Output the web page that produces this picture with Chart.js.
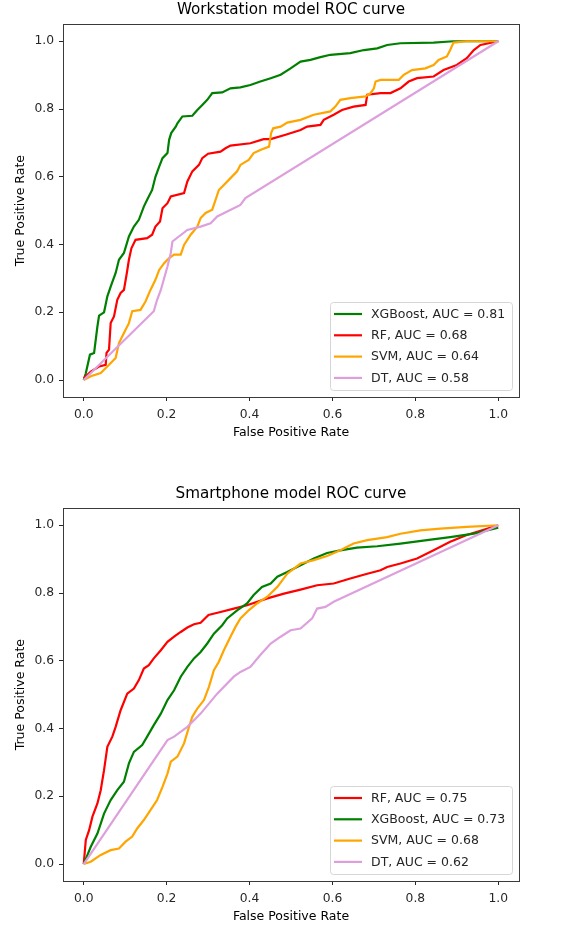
<!DOCTYPE html>
<html>
<head>
<meta charset="utf-8">
<script src="https://cdn.jsdelivr.net/npm/chart.js@4.4.1/dist/chart.umd.min.js"></script>
<style>
body { margin: 0; background: #fff; }
#wrap { position: relative; width: 573px; height: 931px; }
canvas { position: absolute; left: 0; }
</style>
</head>
<body>
<div id="wrap">
<canvas id="wsChart" width="573" height="447" style="top:0"></canvas>
<canvas id="spChart" width="573" height="447" style="top:484px"></canvas>
</div>
<script>
// tick marks on both axes
var tickValues = [0, 0.2, 0.4, 0.6, 0.8, 1.0];
var tickLabels = ['0.0', '0.2', '0.4', '0.6', '0.8', '1.0'];

// workstation model curves (fpr / tpr)
var wsLabels = ['XGBoost, AUC = 0.81', 'RF, AUC = 0.68', 'SVM, AUC = 0.64', 'DT, AUC = 0.58'];
var wsXgbFpr = [0,0.005,0.015,0.025,0.033,0.037,0.049,0.057,0.065,0.077,0.085,0.097,0.109,0.121,0.133,0.145,0.153,0.165,0.173,0.182,0.190,0.202,0.206,0.211,0.222,0.226,0.238,0.262,0.274,0.286,0.298,0.310,0.334,0.354,0.378,0.402,0.426,0.451,0.475,0.499,0.523,0.547,0.571,0.595,0.643,0.676,0.708,0.732,0.764,0.844,0.892,1];
var wsXgbTpr = [0,0.02,0.075,0.08,0.158,0.19,0.20,0.247,0.276,0.316,0.355,0.375,0.424,0.453,0.473,0.512,0.532,0.561,0.60,0.63,0.655,0.67,0.709,0.729,0.748,0.758,0.778,0.78,0.797,0.812,0.827,0.847,0.849,0.861,0.864,0.871,0.881,0.891,0.901,0.92,0.94,0.945,0.953,0.96,0.965,0.974,0.979,0.989,0.994,0.996,1,1];
var wsRfFpr = [0,0.017,0.037,0.053,0.055,0.061,0.065,0.073,0.081,0.089,0.097,0.104,0.109,0.115,0.125,0.153,0.165,0.173,0.184,0.190,0.202,0.210,0.242,0.250,0.262,0.278,0.286,0.300,0.330,0.342,0.354,0.402,0.434,0.451,0.487,0.523,0.539,0.571,0.579,0.603,0.623,0.651,0.680,0.684,0.716,0.740,0.764,0.784,0.804,0.844,0.868,0.900,0.924,0.941,0.957,1];
var wsRfTpr = [0.005,0.025,0.04,0.045,0.08,0.09,0.168,0.188,0.237,0.257,0.266,0.316,0.355,0.389,0.414,0.419,0.429,0.453,0.468,0.507,0.522,0.542,0.552,0.586,0.616,0.635,0.655,0.668,0.674,0.684,0.692,0.699,0.711,0.711,0.724,0.738,0.748,0.753,0.768,0.783,0.797,0.807,0.812,0.842,0.847,0.847,0.861,0.881,0.891,0.896,0.915,0.930,0.950,0.974,0.989,1];
var wsSvmFpr = [0,0.017,0.041,0.057,0.077,0.085,0.097,0.109,0.117,0.137,0.149,0.161,0.173,0.182,0.194,0.206,0.218,0.234,0.242,0.258,0.274,0.282,0.294,0.310,0.318,0.326,0.338,0.354,0.370,0.378,0.398,0.410,0.426,0.447,0.452,0.457,0.475,0.491,0.523,0.555,0.595,0.607,0.619,0.643,0.680,0.692,0.700,0.704,0.716,0.760,0.772,0.792,0.824,0.844,0.856,0.876,0.884,0.892,0.924,1];
var wsSvmTpr = [0,0.011,0.021,0.04,0.065,0.109,0.139,0.168,0.203,0.207,0.232,0.266,0.296,0.325,0.345,0.36,0.37,0.37,0.399,0.429,0.453,0.478,0.493,0.503,0.532,0.561,0.576,0.596,0.616,0.635,0.650,0.670,0.679,0.689,0.729,0.743,0.748,0.760,0.768,0.783,0.793,0.807,0.827,0.832,0.837,0.847,0.861,0.881,0.886,0.886,0.901,0.915,0.920,0.930,0.945,0.955,0.974,0.996,1,1];
var wsDtFpr = [0,0.169,0.177,0.186,0.202,0.210,0.214,0.250,0.282,0.306,0.322,0.378,0.390,1];
var wsDtTpr = [0,0.203,0.237,0.266,0.335,0.375,0.409,0.443,0.453,0.463,0.483,0.517,0.537,1];

// smartphone model curves
var spLabels = ['RF, AUC = 0.75', 'XGBoost, AUC = 0.73', 'SVM, AUC = 0.68', 'DT, AUC = 0.62'];
var spRfFpr = [0,0.005,0.013,0.021,0.033,0.041,0.049,0.057,0.069,0.077,0.089,0.105,0.121,0.133,0.145,0.157,0.169,0.186,0.202,0.218,0.234,0.250,0.266,0.282,0.301,0.330,0.362,0.394,0.443,0.483,0.523,0.563,0.603,0.643,0.684,0.716,0.732,0.764,0.804,0.844,0.884,0.924,1];
var spRfTpr = [0,0.071,0.10,0.14,0.179,0.218,0.277,0.346,0.376,0.405,0.454,0.503,0.518,0.543,0.577,0.587,0.607,0.631,0.656,0.671,0.685,0.698,0.708,0.712,0.735,0.744,0.754,0.764,0.784,0.798,0.810,0.823,0.828,0.843,0.857,0.867,0.877,0.887,0.902,0.926,0.951,0.971,1];
var spXgbFpr = [0,0.017,0.033,0.049,0.065,0.081,0.097,0.109,0.121,0.141,0.153,0.169,0.186,0.202,0.218,0.234,0.250,0.266,0.282,0.298,0.314,0.334,0.346,0.370,0.394,0.410,0.430,0.451,0.467,0.491,0.523,0.555,0.587,0.619,0.659,0.708,0.764,0.828,0.884,0.941,1];
var spXgbTpr = [0,0.051,0.09,0.149,0.189,0.218,0.243,0.297,0.331,0.351,0.376,0.41,0.444,0.484,0.513,0.553,0.582,0.607,0.626,0.651,0.680,0.705,0.725,0.749,0.769,0.794,0.818,0.828,0.848,0.862,0.882,0.902,0.918,0.926,0.934,0.938,0.946,0.956,0.965,0.975,0.993];
var spSvmFpr = [0,0.017,0.041,0.065,0.085,0.101,0.117,0.129,0.145,0.161,0.177,0.190,0.202,0.210,0.226,0.242,0.254,0.262,0.274,0.290,0.302,0.314,0.326,0.338,0.354,0.366,0.378,0.398,0.418,0.443,0.467,0.491,0.523,0.555,0.587,0.619,0.651,0.684,0.732,0.764,0.812,0.860,0.924,1];
var spSvmTpr = [0,0.007,0.027,0.041,0.046,0.066,0.081,0.105,0.13,0.159,0.189,0.228,0.267,0.302,0.317,0.356,0.405,0.435,0.459,0.484,0.523,0.572,0.597,0.631,0.671,0.700,0.725,0.749,0.769,0.789,0.818,0.857,0.887,0.897,0.909,0.926,0.946,0.956,0.965,0.975,0.985,0.990,0.995,1];
var spDtFpr = [0,0.202,0.218,0.250,0.282,0.322,0.362,0.378,0.402,0.426,0.451,0.475,0.499,0.523,0.551,0.563,0.583,0.603,1];
var spDtTpr = [0,0.366,0.376,0.405,0.444,0.503,0.553,0.567,0.582,0.617,0.651,0.671,0.690,0.695,0.725,0.754,0.759,0.774,1];

var green = '#008000', red = '#ff0000', orange = '#ffa500', plum = '#dda0dd';

Chart.defaults.font.family = "'DejaVu Sans', sans-serif";
Chart.defaults.color = '#262626';

// axes box on all four sides, title over the axes, matplotlib style legend in lower right
var rocFrame = {
  id: 'rocFrame',
  afterDraw: function (chart) {
    var ctx = chart.ctx, a = chart.chartArea;
    ctx.save();
    ctx.strokeStyle = '#3a3a3a';
    ctx.lineWidth = 1;
    ctx.strokeRect(Math.round(a.left) + 0.5, Math.round(a.top) + 0.5,
      Math.round(a.right - a.left), Math.round(a.bottom - a.top));

    ctx.font = "15.2px 'DejaVu Sans', sans-serif";
    ctx.fillStyle = '#000';
    ctx.textAlign = 'center';
    ctx.textBaseline = 'middle';
    ctx.fillText(chart.options.rocTitle, (a.left + a.right) / 2, a.top - 14.5);

    var bx = a.right - 189, by = a.bottom - 95, bw = 182, bh = 88;
    ctx.beginPath();
    ctx.roundRect(bx + 0.5, by + 0.5, bw, bh, 3);
    ctx.fillStyle = 'rgba(255,255,255,0.8)';
    ctx.fill();
    ctx.strokeStyle = '#d6d6d6';
    ctx.stroke();

    ctx.font = "12.5px 'DejaVu Sans', sans-serif";
    ctx.textAlign = 'left';
    chart.data.datasets.forEach(function (ds, i) {
      var y = by + 12 + i * 21.3;
      ctx.beginPath();
      ctx.moveTo(bx + 4, y);
      ctx.lineTo(bx + 32, y);
      ctx.strokeStyle = ds.borderColor;
      ctx.lineWidth = 2.2;
      ctx.stroke();
      ctx.fillStyle = '#262626';
      ctx.fillText(ds.label, bx + 41, y + 0.5);
    });
    ctx.restore();
  }
};

function rocAxis(pos, label) {
  var horiz = pos === 'bottom';
  return {
    type: 'linear',
    position: pos,
    min: -0.05,
    max: 1.05,
    afterBuildTicks: function (scale) {
      scale.ticks = tickValues.map(function (v) { return { value: v }; });
    },
    afterFit: function (scale) {
      if (horiz) scale.height = 50; else scale.width = 63;
    },
    ticks: {
      padding: horiz ? 6 : 5,
      font: { size: 12.3 },
      color: '#262626',
      maxRotation: 0,
      callback: function (v, i) { return tickLabels[i]; }
    },
    grid: { drawOnChartArea: false, drawTicks: true, tickLength: 4, color: '#262626' },
    border: { display: false },
    title: {
      display: true,
      text: label,
      color: '#000',
      font: { size: 12.5 },
      padding: horiz ? { top: 0, bottom: 6.5 } : { top: 13.5, bottom: 0 }
    }
  };
}

function makeRoc(id, title, labels, colors, fprs, tprs) {
  var datasets = labels.map(function (lab, i) {
    return {
      label: lab,
      data: fprs[i].map(function (v, k) { return { x: v, y: tprs[i][k] }; }),
      borderColor: colors[i],
      backgroundColor: colors[i],
      borderWidth: 2.2,
      pointRadius: 0,
      showLine: true,
      tension: 0,
      order: -i
    };
  });
  return new Chart(document.getElementById(id), {
    type: 'scatter',
    data: { datasets: datasets },
    options: {
      rocTitle: title,
      responsive: false,
      animation: false,
      layout: { padding: { left: 0, right: 54, top: 24.3, bottom: 0 } },
      scales: {
        x: rocAxis('bottom', 'False Positive Rate'),
        y: rocAxis('left', 'True Positive Rate')
      },
      plugins: {
        legend: { display: false },
        tooltip: { enabled: false },
        title: { display: false }
      }
    },
    plugins: [rocFrame]
  });
}

makeRoc('wsChart', 'Workstation model ROC curve', wsLabels,
  [green, red, orange, plum],
  [wsXgbFpr, wsRfFpr, wsSvmFpr, wsDtFpr],
  [wsXgbTpr, wsRfTpr, wsSvmTpr, wsDtTpr]);

makeRoc('spChart', 'Smartphone model ROC curve', spLabels,
  [red, green, orange, plum],
  [spRfFpr, spXgbFpr, spSvmFpr, spDtFpr],
  [spRfTpr, spXgbTpr, spSvmTpr, spDtTpr]);
</script>
</body>
</html>
